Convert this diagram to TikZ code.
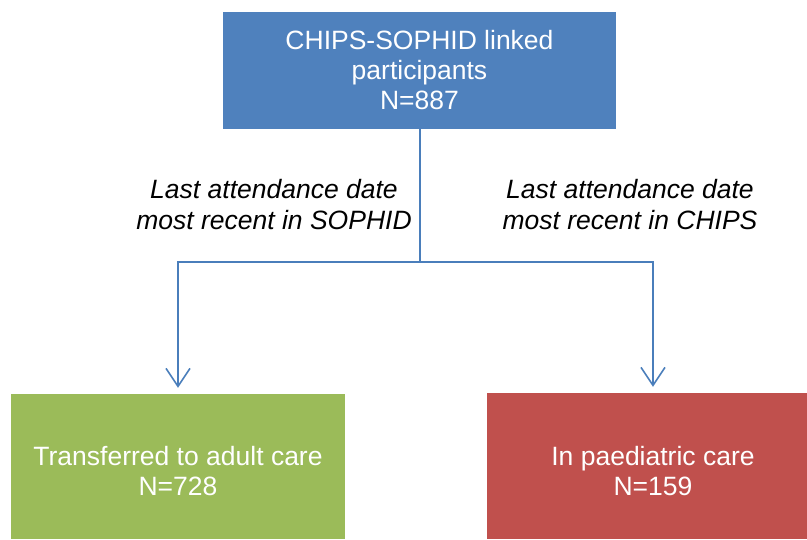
\documentclass[tikz,border=0pt]{standalone}
\usepackage{fontspec}
\setmainfont{Liberation Sans}
\usetikzlibrary{arrows.meta}
\definecolor{boxblue}{HTML}{4F81BD}
\definecolor{boxgreen}{HTML}{9BBB59}
\definecolor{boxred}{HTML}{C0504D}
\definecolor{linkblue}{HTML}{4A7EBB}
\begin{document}
\begin{tikzpicture}[x=1pt,y=-1pt,
  every node/.style={font=\fontsize{26.5}{30}\selectfont},
  flowbox/.style={rectangle,inner sep=0pt,text=white,align=center},
  branchlabel/.style={align=center,font=\fontsize{26.5}{31}\selectfont\itshape},
  conn/.style={draw=linkblue,line width=1.8pt},
  tip/.style={-{Straight Barb[length=18pt,width=24pt,line width=1.6pt]},shorten >=6pt}]
  \useasboundingbox (0,0) rectangle (807,539);
  % boxes
  \node[flowbox,fill=boxblue,minimum width=393pt,minimum height=117pt] (top) at (419.5,70.5)
    {CHIPS-SOPHID linked\\participants\\N=887};
  \node[flowbox,fill=boxgreen,minimum width=334pt,minimum height=145pt] (adult) at (178,466.5) {};
  \node[flowbox,fill=boxred,minimum width=320pt,minimum height=146pt] (paed) at (647,466) {};
  \node[text=white,align=center] (adulttext) at (178,471) {Transferred to adult care\\N=728};
  \node[text=white,align=center] (paedtext) at (653,471) {In paediatric care\\N=159};
  % branch connectors
  \coordinate (split) at (420,262);
  \draw[conn] (split |- top.south) -- (split);
  \draw[conn,tip] (split) -| (adult.north);
  \draw[conn,tip] (split) -| ([xshift=6pt]paed.north);
  % branch labels
  \node[branchlabel] (lblleft) at (274,205) {Last attendance date\\most recent in SOPHID};
  \node[branchlabel] (lblright) at (630,205) {Last attendance date\\most recent in CHIPS};
\end{tikzpicture}
\end{document}
